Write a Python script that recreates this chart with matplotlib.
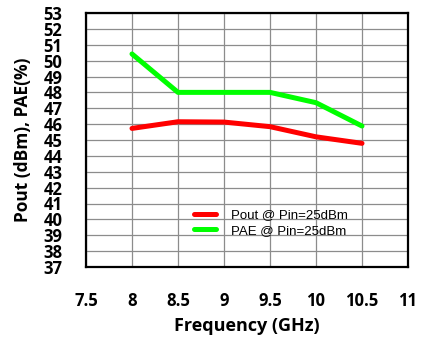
import numpy as np
import matplotlib
matplotlib.use("Agg")
import matplotlib.pyplot as plt

# Values
freq = [8, 8.5, 9, 9.5, 10, 10.5]
pout = [45.73, 46.15, 46.13, 45.84, 45.2, 44.79]
pae = [50.42, 48.0, 48.0, 48.0, 47.35, 45.88]

xticks = [7.5, 8, 8.5, 9, 9.5, 10, 10.5, 11]
yticks = list(range(37, 54))

plt.rcParams['font.family'] = ['Open Sans', 'DejaVu Sans']

fig = plt.figure(figsize=(4.4, 3.39), dpi=100)
ax = fig.add_axes([86 / 440, 1 - 267 / 339, 322 / 440, 254 / 339])

ax.plot(freq, pout, color='#ff0000', linewidth=3.6, solid_capstyle='round',
        label='Pout @ Pin=25dBm')
ax.plot(freq, pae, color='#00ff00', linewidth=3.6, solid_capstyle='round',
        label='PAE @ Pin=25dBm')

ax.set_xlim(7.5, 11)
ax.set_ylim(37, 53)
ax.set_xticks(xticks)
ax.set_xticklabels([f"{t:g}" for t in xticks], fontsize=12, fontweight='bold')
ax.set_yticks(yticks)
ax.set_yticklabels([str(t) for t in yticks], fontsize=12, fontweight='bold')
ax.tick_params(axis='both', length=0)
ax.tick_params(axis='x', pad=18)
ax.tick_params(axis='y', pad=17)

ax.grid(True, color='#8c8c8c', linewidth=0.9)
ax.set_axisbelow(True)
for s in ax.spines.values():
    s.set_linewidth(1.6)
    s.set_color('black')

ax.set_xlabel('Frequency (GHz)', fontsize=13, fontweight='bold', labelpad=5)
ax.set_ylabel('Pout (dBm), PAE(%)', fontsize=12.5, fontweight='bold', labelpad=8)

leg = ax.legend(loc='upper left', bbox_to_anchor=(0.3, 0.275), frameon=False,
                handlelength=1.6, handletextpad=1.2, labelspacing=0.25,
                prop={'family': 'Liberation Sans', 'size': 9.5})

fig.savefig('out.png', dpi=100)
